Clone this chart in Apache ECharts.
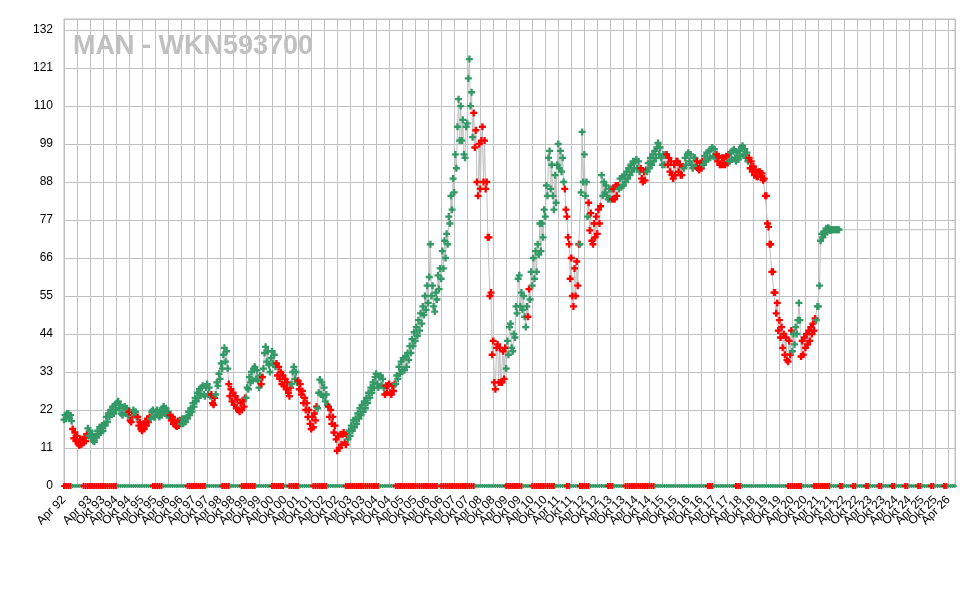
<!DOCTYPE html>
<html>
<head>
<meta charset="utf-8">
<script src="https://cdn.jsdelivr.net/npm/echarts@6/dist/echarts.min.js"></script>
<style>
html,body{margin:0;padding:0;background:#fff;}
#chart{width:970px;height:603px;}
</style>
</head>
<body>
<div id="chart"></div>
<script>
// Monthly low / high estimates, starting April 1992 (index 0 = Apr 92)
const lows = [
19.2,19.5,19.8,18.8,13.8,13.0,12.3,11.8,12.0,12.5,
13.0,14.5,14.0,13.0,12.8,14.0,15.0,15.5,16.0,17.5,
18.5,20.0,21.0,21.0,22.0,22.5,21.0,20.5,21.0,20.5,
19.0,18.5,20.5,20.0,17.5,16.5,16.0,16.5,17.5,18.5,
19.5,20.0,20.0,20.5,20.0,20.5,21.0,20.5,20.0,19.0,
18.0,17.5,17.2,17.5,18.0,18.0,18.5,19.5,20.5,21.5,
23.0,24.5,25.5,26.5,26.5,26.0,26.5,26.0,24.0,23.5,
26.5,29.0,31.0,34.0,36.0,34.0,26.0,24.5,23.5,22.5,
22.0,21.5,22.0,23.0,25.5,28.0,30.0,30.5,31.0,30.5,
28.5,29.5,34.0,36.0,35.0,33.0,35.5,34.5,32.0,31.0,
29.5,29.0,28.0,27.0,26.0,29.5,31.0,30.0,28.0,26.5,
24.0,22.0,20.0,18.0,16.5,17.0,19.0,22.5,26.5,26.0,
24.5,23.5,20.0,18.0,15.5,13.5,10.2,11.0,12.0,12.5,
12.0,13.5,14.5,16.0,17.0,18.0,19.5,20.5,21.5,22.5,
24.0,25.5,27.0,28.5,29.5,28.5,29.0,28.5,26.5,27.0,
27.0,26.5,27.5,29.5,31.0,32.5,33.5,33.5,34.5,36.5,
38.5,40.5,42.0,43.5,45.0,47.0,49.5,51.0,53.0,55.0,
52.0,50.5,54.0,57.0,60.0,63.0,66.0,70.0,76.0,80.0,
85.0,92.0,100,100,96,95,105,110,101,98,
88,84,86,88,86,72,55,38,30,28,
30,30,30,31,34,38,40,39,43,50,
52,51,49,46,49,54,58,60,62,67,
68,72,78,84,86,84,80,82,92,91,
88,80,72,60,55,52,55,58,70,88,
84,78,74,71,70,72,73,76,84,85,
84,83,83,83,83,84,86,86.5,87,88,
89,90,91,92,92,91,89,88,88.5,91,
92,93,94,95,96,95,93,93,93,91,
90,89,90,91,90,90,92,93,94,93,
92,92.5,92,91.5,92,93,94,94.5,95,95.5,
95,94,93,93,93,93,93.5,94,94.5,95,
94,94.5,95.5,96,95,94,92,91,90,89.5,
89.5,89.5,88.5,84,76,70,62,56,50,45,
43,40,38,36.5,36,38,39,41,44,48,
37.5,38,40,41,42,44,45,48,52,71,
72,73,73.5,74,74.2,74.2,74.2,74.2
];
const highs = [
20.5,21.0,21.0,20.5,16.5,15.5,14.5,13.5,13.5,14.0,
15.0,16.7,16.0,15.0,14.5,16.0,17.0,17.5,18.0,20.0,
21.0,22.0,23.0,23.5,24.0,24.5,23.5,22.5,23.0,22.5,
21.5,20.5,22.0,21.5,20.0,18.5,18.0,18.5,19.5,20.0,
21.5,22.0,21.5,22.0,21.5,22.5,23.0,22.5,21.5,20.5,
20.0,19.0,18.8,19.0,19.5,19.5,20.0,21.5,22.5,24.0,
25.5,27.0,28.0,28.5,29.0,28.5,29.5,28.5,26.5,25.5,
30.0,32.5,35.5,38.0,40.0,39.0,29.5,28.0,27.0,26.0,
25.0,24.0,24.5,25.5,28.5,31.5,33.0,34.0,34.5,33.5,
32.0,31.5,38.5,40.3,39.0,37.0,39.0,38.0,35.5,34.5,
33.0,32.0,31.0,30.0,28.5,33.0,34.5,33.0,30.5,29.5,
27.5,25.5,24.0,22.0,20.0,21.0,23.0,27.0,30.8,30.0,
28.5,26.5,23.0,22.0,20.0,17.5,14.5,15.0,15.0,15.5,
14.5,16.0,17.5,19.0,19.5,21.0,22.5,23.5,24.5,25.5,
27.0,28.5,30.0,31.5,32.5,31.5,32.0,31.0,29.0,29.0,
29.5,29.0,29.5,32.0,34.5,36.0,37.0,37.5,38.5,40.5,
42.5,44.5,46.0,48.0,50.0,52.0,55.0,58.0,60.5,70.0,
58.0,56.0,61.0,63.0,68.0,71.0,73.0,78.0,84.0,89.0,
96.0,104,112,110,106,104,118,123.6,114,108,
103,99,100,104,100,88,72,56,42,40,
41,40,39,40,42,46,47,44,52,60,
61,56,55,52,57,62,66,68,70,76,
76,80,87,95,97,93,90,93,99,97,
95,86,78,70,66,63,65,70,85,102.5,
96,88,82,79,76,78,80,81,90,88,
87,86,86,86,87,87,89,89.5,90,91,
92,93,94,94,94.5,94,92,91,91.5,93.5,
95,96,97,98,99.3,98,96,96,96,95,
94,93,94,94,93,92.5,95,96,96.5,96,
95,95,94,93.5,94,95.5,96.5,97,97.5,98,
97.5,96,95.5,95,95,95.5,96,96.5,97,97.5,
96.5,97,98,98.5,97.5,96.5,95,94,92.5,91.5,
91,91,90.5,89,84,75,70,62,56,53,
48,46,44,43,42,45,44,46,48,53,
42,43,44,45,46,47,48.5,52,58,73,
73.5,74.5,74.8,74.5,74.2,74.2,74.2,74.2
];
// Month ranges (inclusive) in which the price signal is red; other months are green
const redRanges = [
[4,10],[30,31],[34,39],[49,53],[68,69],[76,83],[91,91],[98,104],[108,116],
[122,130],[148,152],[189,203],[214,214],[231,237],[242,247],[253,255],
[266,268],[278,285],[292,294],[301,306],[316,335],[340,346]
];
// Month ranges (inclusive) in which the zero-line signal is red
const zeroRedRanges = [
[0,3],[9,24],[41,45],[57,65],[73,76],[82,88],[96,101],[104,108],[115,121],
[130,145],[153,172],[174,189],[204,211],[216,226],[232,233],[238,242],
[251,253],[259,272],[297,299],[310,312],[334,340],[346,353],
[358,359],[364,365],[370,371],[376,377],[382,383],[388,389],[394,395],
[400,401],[406,407]
];
const tickLabels = [
"Apr 92","Okt 92","Apr 93","Okt 93","Apr 94","Okt 94","Apr 95","Okt 95",
"Apr 96","Okt 96","Apr 97","Okt 97","Apr 98","Okt 98","Apr 99","Okt 99",
"Apr 00","Okt 00","Apr 01","Okt 01","Apr 02","Okt 02","Apr 03","Okt 03",
"Apr 04","Okt 04","Apr 05","Okt 05","Apr 06","Okt 06","Apr 07","Okt 07",
"Apr 08","Okt 08","Apr 09","Okt 09","Apr 10","Okt 10","Apr 11","Okt 11",
"Apr 12","Okt 12","Apr 13","Okt 13","Apr 14","Okt 14","Apr 15","Okt 15",
"Apr 16","Okt 16","Apr 17","Okt 17","Apr 18","Okt 18","Apr 19","Okt 19",
"Apr 20","Okt 20","Apr 21","Okt 21","Apr 22","Okt 22","Apr 23","Okt 23",
"Apr 24","Okt 24","Apr 25","Okt 25","Apr 26"
];
const axisEndMonth = 411;
const yMax = 135.2;
const title = "MAN - WKN593700";

const GREEN = "#339966", RED = "#ff0000", GREY = "#c0c0c0";
const plus = "path://M2,0H4V2H6V4H4V6H2V4H0V2H2Z";
const inRanges = (i, ranges) => ranges.some(r => i >= r[0] && i <= r[1]);

// two observations per month (first and second half), ordered by direction of travel
const n = lows.length;
const priceData = [];
for (let i = 0; i < n; i++) {
  const color = inRanges(i, redRanges) ? RED : GREEN;
  const up = i < n - 1 ? (lows[i + 1] + highs[i + 1]) >= (lows[i] + highs[i]) : true;
  const first = up ? lows[i] : highs[i];
  const second = up ? highs[i] : lows[i];
  priceData.push({ value: [i, first], itemStyle: { color } });
  priceData.push({ value: [i + 0.5, second], itemStyle: { color } });
}
const lastPoint = priceData[priceData.length - 1].value;
const zeroData = [];
for (let i = 0; i <= axisEndMonth; i++) {
  const red = inRanges(i, zeroRedRanges);
  zeroData.push({ value: [i, 0], symbolSize: red ? 6 : 4, itemStyle: { color: red ? RED : GREEN } });
}

const chart = echarts.init(document.getElementById("chart"), null, { renderer: "canvas" });
chart.setOption({
  animation: false,
  backgroundColor: "#fff",
  title: {
    text: title, left: 68, top: 28,
    textStyle: { fontFamily: "Liberation Sans, Arial, sans-serif", fontSize: 27, fontWeight: "bold", color: "#c0c0c0" }
  },
  grid: { left: 64, right: 15, top: 19, bottom: 117, show: true, borderColor: GREY, borderWidth: 1 },
  xAxis: {
    type: "value", min: 0, max: axisEndMonth, interval: 6,
    axisLine: { show: false }, axisTick: { show: false },
    splitLine: { show: true, lineStyle: { color: GREY, width: 1 } },
    axisLabel: {
      rotate: 45, margin: 12, color: "#000", fontSize: 12,
      fontFamily: "Liberation Sans, Arial, sans-serif",
      showMinLabel: true, showMaxLabel: false, hideOverlap: false,
      formatter: v => (v % 6 === 0 && tickLabels[v / 6]) ? tickLabels[v / 6] : ""
    }
  },
  yAxis: {
    type: "value", min: 0, max: yMax, interval: 11,
    axisLine: { show: false }, axisTick: { show: false },
    splitLine: { show: true, lineStyle: { color: GREY, width: 1 } },
    axisLabel: {
      color: "#000", fontSize: 12, margin: 11, showMaxLabel: false, showMinLabel: true,
      fontFamily: "Liberation Sans, Arial, sans-serif",
      formatter: v => (Math.abs(v % 11) < 1e-6) ? String(v) : ""
    }
  },
  series: [
    {
      name: "Nullinie", type: "line", data: zeroData, symbol: plus,
      lineStyle: { color: GREEN, width: 3 }, z: 2
    },
    {
      name: "Fortschreibung", type: "line",
      data: [lastPoint, [axisEndMonth, lastPoint[1]]],
      symbol: "none", lineStyle: { color: GREY, width: 1 }, z: 2
    },
    {
      name: "Kurs", type: "line", data: priceData, symbol: plus, symbolSize: 7,
      lineStyle: { color: GREY, width: 1 }, z: 3
    }
  ]
});
</script>
</body>
</html>
